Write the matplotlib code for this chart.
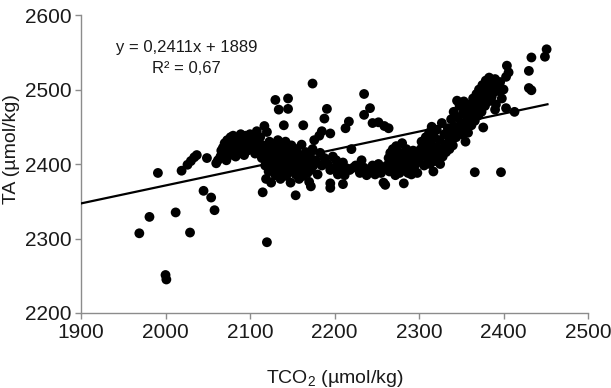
import numpy as np
import matplotlib
matplotlib.use("Agg")
import matplotlib.pyplot as plt
from matplotlib import font_manager

# ============================================================
# Data
# ============================================================

# sparse / outlying samples
tco2_sparse = [1969, 1981, 1991, 2000, 2001, 2012, 2029, 2019, 2026, 2030, 2034, 2037,
               2045, 2054, 2058, 2049, 2060, 2120, 2115, 2117, 2120, 2130, 2134, 2145,
               2145, 2140, 2154, 2163, 2174, 2172, 2188, 2191, 2185, 2195, 2195, 2195,
               2210, 2213, 2217, 2235, 2242, 2235, 2245, 2252, 2259, 2264, 2366, 2397,
               2376, 2404, 2406, 2403, 2433, 2430, 2430, 2433, 2449, 2451, 2413, 2403, 2390]
ta_sparse = [2307, 2329, 2388, 2251, 2245, 2335, 2308, 2391, 2399, 2404, 2409, 2412,
             2364, 2355, 2338, 2408, 2401, 2295, 2362, 2451, 2443, 2486, 2473, 2488,
             2474, 2452, 2358, 2452, 2508, 2370, 2461, 2474, 2444, 2441, 2374, 2368,
             2373, 2448, 2457, 2494, 2475, 2466, 2455, 2456, 2451, 2448, 2389, 2389,
             2449, 2532, 2523, 2517, 2543, 2525, 2502, 2499, 2544, 2554, 2470, 2475, 2473]

# cluster around 2060-2115
tco2_left = [2062, 2065, 2066, 2068, 2070, 2070, 2072, 2073, 2075, 2076, 2077, 2078,
             2080, 2080, 2082, 2083, 2084, 2085, 2087, 2088, 2089, 2090, 2092, 2093,
             2095, 2096, 2097, 2099, 2100, 2101, 2103, 2104, 2106, 2107, 2108, 2110,
             2111, 2112, 2114, 2115]
ta_left = [2405, 2410, 2418, 2422, 2415, 2428, 2405, 2432, 2420, 2412, 2436, 2426,
           2418, 2438, 2430, 2410, 2422, 2435, 2428, 2415, 2440, 2422, 2432, 2412,
           2438, 2425, 2418, 2430, 2440, 2420, 2428, 2436, 2414, 2424, 2444, 2430,
           2418, 2436, 2408, 2425]

# cluster around 2115-2190
tco2_mid = [2116, 2118, 2119, 2120, 2121, 2122, 2123, 2124, 2125, 2126, 2127, 2128,
            2129, 2130, 2131, 2132, 2133, 2134, 2135, 2136, 2137, 2138, 2139, 2140,
            2141, 2142, 2143, 2144, 2145, 2146, 2147, 2148, 2149, 2150, 2151, 2152,
            2153, 2154, 2155, 2156, 2157, 2158, 2159, 2160, 2161, 2162, 2163, 2164,
            2165, 2166, 2168, 2169, 2170, 2171, 2172, 2174, 2175, 2176, 2178, 2180,
            2182, 2183, 2185, 2188]
ta_mid = [2412, 2398, 2380, 2405, 2420, 2390, 2430, 2402, 2375, 2414, 2395, 2424,
          2408, 2385, 2400, 2418, 2432, 2394, 2410, 2380, 2404, 2422, 2390, 2412,
          2398, 2430, 2384, 2406, 2418, 2394, 2402, 2375, 2425, 2410, 2390, 2400,
          2414, 2386, 2420, 2396, 2404, 2380, 2412, 2392, 2426, 2402, 2384, 2408,
          2395, 2416, 2388, 2402, 2376, 2410, 2392, 2420, 2398, 2432, 2405, 2386,
          2438, 2415, 2398, 2408]

# low band around 2190-2260
tco2_low = [2192, 2195, 2198, 2200, 2202, 2204, 2206, 2208, 2210, 2212, 2215, 2218,
            2220, 2222, 2225, 2230, 2232, 2235, 2238, 2242, 2245, 2248, 2250, 2252,
            2255, 2257, 2258, 2260]
ta_low = [2400, 2392, 2410, 2395, 2405, 2386, 2398, 2390, 2402, 2385, 2394, 2392,
          2420, 2395, 2398, 2388, 2405, 2395, 2385, 2390, 2398, 2386, 2392, 2400,
          2388, 2395, 2375, 2372]

# cluster around 2260-2300
tco2_right = [2262, 2264, 2265, 2266, 2268, 2269, 2270, 2271, 2272, 2273, 2274, 2275,
              2276, 2277, 2278, 2279, 2280, 2281, 2282, 2283, 2284, 2285, 2286, 2287,
              2288, 2289, 2290, 2291, 2292, 2293, 2294, 2295, 2296, 2298, 2299]
ta_right = [2398, 2408, 2390, 2415, 2402, 2420, 2394, 2410, 2385, 2424, 2404, 2396,
            2416, 2388, 2408, 2400, 2428, 2392, 2374, 2412, 2398, 2420, 2404, 2388,
            2414, 2396, 2408, 2386, 2402, 2418, 2394, 2410, 2400, 2388, 2416]

# rising band 2300-2400
tco2_band = [2300, 2302, 2303, 2305, 2306, 2307, 2308, 2310, 2311, 2312, 2313, 2314,
             2315, 2316, 2317, 2318, 2319, 2320, 2321, 2322, 2324, 2325, 2326, 2327,
             2328, 2330, 2331, 2332, 2334, 2335, 2336, 2338, 2339, 2340, 2341, 2342,
             2344, 2345, 2346, 2347, 2348, 2350, 2351, 2352, 2353, 2354, 2355, 2356,
             2357, 2358, 2360, 2361, 2362, 2364, 2365, 2366, 2368, 2369, 2370, 2371,
             2372, 2374, 2375, 2376, 2378, 2379, 2380, 2382, 2383, 2384, 2386, 2387,
             2388, 2390, 2391, 2392, 2394, 2396, 2398, 2400]
ta_band = [2405, 2420, 2430, 2412, 2398, 2424, 2436, 2408, 2418, 2442, 2400, 2428,
           2450, 2412, 2390, 2436, 2404, 2422, 2446, 2414, 2432, 2400, 2420, 2455,
           2410, 2440, 2426, 2416, 2448, 2430, 2420, 2460, 2440, 2425, 2470, 2450,
           2436, 2485, 2462, 2445, 2478, 2455, 2440, 2468, 2484, 2450, 2430, 2474,
           2460, 2442, 2480, 2466, 2452, 2488, 2472, 2458, 2494, 2478, 2465, 2500,
           2484, 2470, 2506, 2490, 2478, 2512, 2496, 2484, 2516, 2502, 2490, 2508,
           2496, 2514, 2480, 2504, 2498, 2510, 2488, 2500]

# linear trend shown on the chart
slope = 0.2411
intercept = 1889
r2 = 0.67
trend_x = [1900, 2452]

# ============================================================
# Plot
# ============================================================

available = {f.name for f in font_manager.fontManager.ttflist}
narrow = 'Liberation Sans Narrow' if 'Liberation Sans Narrow' in available else 'Liberation Sans'
plt.rcParams['font.family'] = [narrow, 'DejaVu Sans']
plt.rcParams['mathtext.fontset'] = 'custom'
plt.rcParams['mathtext.rm'] = narrow

tco2 = np.concatenate([tco2_sparse, tco2_left, tco2_mid, tco2_low, tco2_right, tco2_band])
ta = np.concatenate([ta_sparse, ta_left, ta_mid, ta_low, ta_right, ta_band])

fig = plt.figure(figsize=(6.11, 3.88), dpi=100)
ax = fig.add_axes([0.1326, 0.1933, 0.8298, 0.768])

ax.scatter(tco2, ta, s=50, color='black', edgecolors='none', zorder=3)

tx = np.array(trend_x)
ax.plot(tx, slope * tx + intercept, color='black', linewidth=1.6, zorder=4)

ax.set_xlim(1900, 2500)
ax.set_ylim(2200, 2600)
ax.set_xticks(range(1900, 2501, 100))
ax.set_yticks(range(2200, 2601, 100))

for side in ['top', 'right']:
    ax.spines[side].set_visible(False)
for side in ['left', 'bottom']:
    ax.spines[side].set_color('#8c8c8c')
    ax.spines[side].set_linewidth(1.0)

ax.tick_params(axis='both', direction='out', length=4, width=1.0,
               color='#8c8c8c', labelsize=15, labelcolor='#1a1a1a', pad=3)

ax.set_xlabel('TCO$_2$ (µmol/kg)', fontsize=14, color='#1a1a1a', labelpad=19)
ax.set_ylabel('TA (µmol/kg)', fontsize=14, color='#1a1a1a')
ax.yaxis.set_label_coords(-0.12, 0.55)

ax.text(2025, 2556, f'y = {slope:.4f}x + {intercept}'.replace('.', ','),
        fontsize=12, ha='center', va='center', color='#1a1a1a')
ax.text(2025, 2528, f'R² = {r2:.2f}'.replace('.', ','),
        fontsize=12, ha='center', va='center', color='#1a1a1a')

plt.savefig('out.png', dpi=100)
